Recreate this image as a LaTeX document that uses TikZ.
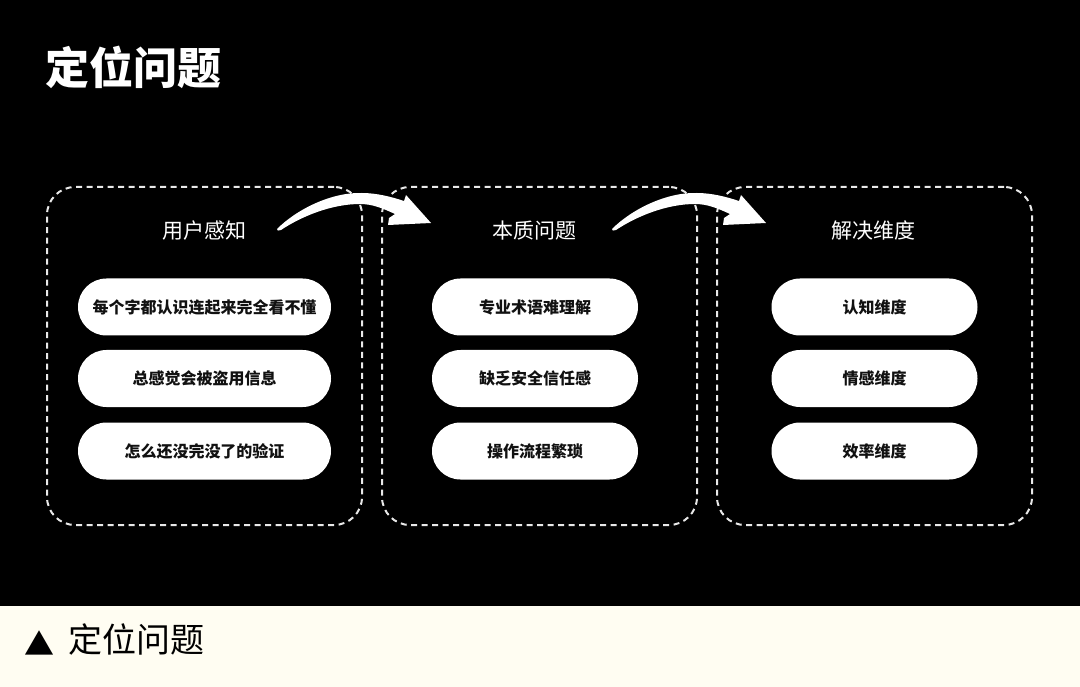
\documentclass[tikz,border=0pt]{standalone}
\usepackage{fontspec}
\setmainfont{Noto Sans CJK SC}
\definecolor{cream}{HTML}{FFFDF2}
\definecolor{dashgray}{HTML}{E8E8E8}
\definecolor{ink}{HTML}{111111}
\tikzset{
  dbox/.style={draw=dashgray, line width=2pt, dash pattern=on 6pt off 4.5pt, rounded corners=28pt, minimum width=315pt, minimum height=338pt, inner sep=0pt},
  pill/.style={fill=white, rounded corners=28.5pt, minimum height=57pt, inner sep=0pt, text=ink, font=\fontsize{16pt}{18pt}\selectfont\bfseries},
  sectitle/.style={text=white, font=\fontsize{21pt}{24pt}\selectfont, inner sep=0pt},
  brush/.pic={
    \fill[white] (0,0) .. controls (20,-20) and (55,-37) .. (85,-36)
      .. controls (100,-36) and (115,-32) .. (127,-28) -- (129,-34) -- (154,-6)
      -- (111,-4) -- (112,-11) -- (118,-15)
      .. controls (105,-21) and (95,-25) .. (83,-25)
      .. controls (55,-25) and (25,-13) .. (4,1)
      .. controls (2,2) and (-1,2) .. (0,0) -- cycle;
  }
}
\begin{document}
\begin{tikzpicture}[x=1pt,y=-1pt]
\useasboundingbox (0,0) rectangle (1080,687);
\fill[black] (0,0) rectangle (1080,605.5);
\fill[cream] (0,605.5) rectangle (1080,687);

\node[anchor=west, inner sep=0pt, text=white, font=\fontsize{44pt}{48pt}\selectfont\bfseries] (title) at (45,67) {定位问题};

% dashed boxes
\node[dbox] (b1) at (204.5,356) {};
\node[dbox] (b2) at (539.5,356) {};
\node[dbox] (b3) at (874.5,356) {};

% section titles
\node[sectitle] (t1) at (204.5,231) {用户感知};
\node[sectitle] (t2) at (534.5,231) {本质问题};
\node[sectitle] (t3) at (873.5,231) {解决维度};

% pills
\node[pill, minimum width=253pt] (p11) at (204.5,307) {每个字都认识连起来完全看不懂};
\node[pill, minimum width=253pt] (p12) at (204.5,378.5) {总感觉会被盗用信息};
\node[pill, minimum width=253pt] (p13) at (204.5,451) {怎么还没完没了的验证};

\node[pill, minimum width=206pt] (p21) at (535,307) {专业术语难理解};
\node[pill, minimum width=206pt] (p22) at (535,378.5) {缺乏安全信任感};
\node[pill, minimum width=206pt] (p23) at (535,451) {操作流程繁琐};

\node[pill, minimum width=206pt] (p31) at (874.5,307) {认知维度};
\node[pill, minimum width=206pt] (p32) at (874.5,378.5) {情感维度};
\node[pill, minimum width=206pt] (p33) at (874.5,451) {效率维度};

% brush arrows
\pic at (277,229) {brush};
\pic at (612,229) {brush};

% caption
\node[inner sep=0pt, text=black, font=\fontsize{30pt}{32pt}\selectfont] (tri) at (39.5,643) {▲};
\node[anchor=west, inner sep=0pt, text=black, font=\fontsize{34pt}{38pt}\selectfont] (cap) at (68,640) {定位问题};
\end{tikzpicture}
\end{document}
